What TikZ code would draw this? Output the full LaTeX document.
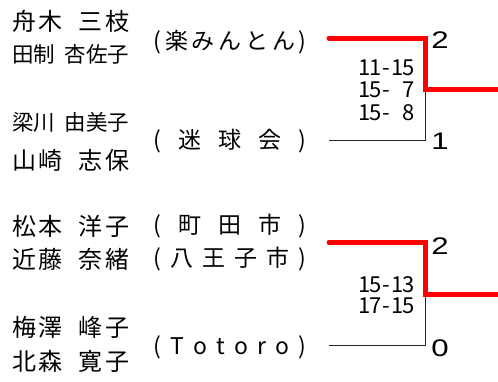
\documentclass[tikz,border=0pt]{standalone}
\usepackage{fontspec}
\setmainfont{Noto Sans CJK JP}
\newfontfamily\bigdigit{Liberation Sans}
\newcommand\dg[1]{\makebox[11pt]{#1}}
\begin{document}
\begin{tikzpicture}[x=1pt,y=-1pt,
  nmA/.style={anchor=base west, inner sep=0, font=\fontsize{24}{24}\selectfont},
  nmB/.style={anchor=base west, inner sep=0, font=\fontsize{21.5}{21.5}\selectfont},
  team/.style={anchor=base west, inner sep=0, font=\fontsize{23}{23}\selectfont},
  score/.style={anchor=base east, inner sep=0, font=\fontsize{22}{22}\selectfont},
  res/.style={anchor=base, inner sep=0, font=\bigdigit\fontsize{24}{24}\selectfont},
  win/.style={draw=red, line width=5pt, line cap=round, line join=miter},
  lose/.style={draw=black!85, line width=0.9pt}]
\useasboundingbox (0,0) rectangle (498,381);
% names
\node[nmA] (n1) at (12,30) {\makebox[117pt][s]{舟\hfill 木\hfill\hspace{0.5em}\hfill 三\hfill 枝}};
\node[nmB] (n2) at (12,62.5) {\makebox[117pt][s]{田\hfill 制\hfill\hspace{0.4em}\hfill 杏\hfill 佐\hfill 子}};
\node[nmB] (n3) at (12,130.5) {\makebox[117pt][s]{梁\hfill 川\hfill\hspace{0.4em}\hfill 由\hfill 美\hfill 子}};
\node[nmA] (n4) at (12,169) {\makebox[117pt][s]{山\hfill 崎\hfill\hspace{0.5em}\hfill 志\hfill 保}};
\node[nmA] (n5) at (12,235) {\makebox[117pt][s]{松\hfill 本\hfill\hspace{0.5em}\hfill 洋\hfill 子}};
\node[nmA] (n6) at (12,268) {\makebox[117pt][s]{近\hfill 藤\hfill\hspace{0.5em}\hfill 奈\hfill 緒}};
\node[nmA] (n7) at (12,336) {\makebox[117pt][s]{梅\hfill 澤\hfill\hspace{0.5em}\hfill 峰\hfill 子}};
\node[nmA] (n8) at (12,370) {\makebox[117pt][s]{北\hfill 森\hfill\hspace{0.5em}\hfill 寛\hfill 子}};
% teams
\node[team] (t1) at (153.5,49.5) {\makebox[153pt][s]{(\hfill 楽\hfill み\hfill ん\hfill と\hfill ん\hfill)}};
\node[team] (t2) at (153.5,148.5) {\makebox[153pt][s]{(\hfill 迷\hfill 球\hfill 会\hfill)}};
\node[team] (t3) at (153.5,233.5) {\makebox[153pt][s]{(\hfill 町\hfill 田\hfill 市\hfill)}};
\node[team] (t4) at (153.5,266.5) {\makebox[153pt][s]{(\hfill 八\hfill 王\hfill 子\hfill 市\hfill)}};
\node[team] (t5) at (153.5,354.5) {\makebox[153pt][s]{(\hfill T\hfill o\hfill t\hfill o\hfill r\hfill o\hfill)}};
% scores
\node[score] (s1) at (414,75) {\dg1\dg1\dg-\dg1\dg5};
\node[score] (s2) at (414,97) {\dg1\dg5\dg-\dg{}\dg7};
\node[score] (s3) at (414,120) {\dg1\dg5\dg-\dg{}\dg8};
\node[score] (s4) at (414,292) {\dg1\dg5\dg-\dg1\dg3};
\node[score] (s5) at (414,313) {\dg1\dg7\dg-\dg1\dg5};
% results
\node[res] (r1) at (440,48) {\scalebox{1.3}[1]{2}};
\node[res] (r2) at (440,149) {\scalebox{1.3}[1]{1}};
\node[res] (r3) at (440,254) {\scalebox{1.3}[1]{2}};
\node[res] (r4) at (440,356) {\scalebox{1.3}[1]{0}};
% bracket coordinates
\coordinate (a1) at (329,38);
\coordinate (a2) at (425.5,38);
\coordinate (am) at (425.5,89.5);
\coordinate (ao) at (502,89.5);
\coordinate (b1) at (329,140.7);
\coordinate (b2) at (425,140.7);
\coordinate (bm) at (425,89.5);
\coordinate (c1) at (329,242.5);
\coordinate (c2) at (425.5,242.5);
\coordinate (cm) at (425.5,294.5);
\coordinate (co) at (502,294.5);
\coordinate (d1) at (329,345);
\coordinate (d2) at (425,345);
\coordinate (dm) at (425,294.5);
\draw[lose] (b1) -- (b2) -- (bm);
\draw[lose] (d1) -- (d2) -- (dm);
\draw[win] (a1) -- (a2) -- (am) -- (ao);
\draw[win] (c1) -- (c2) -- (cm) -- (co);
\end{tikzpicture}
\end{document}
